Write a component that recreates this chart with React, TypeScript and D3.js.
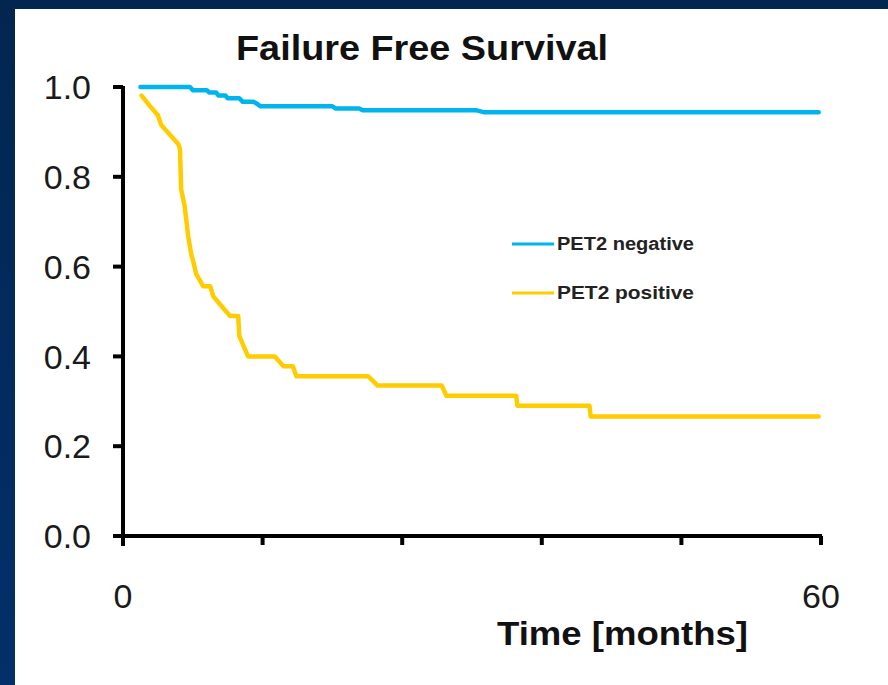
import React, { useEffect, useRef } from "react";
import * as d3 from "d3";

const title = "Failure Free Survival";
const xLabel = "Time [months]";
const seriesNames = ["PET2 negative", "PET2 positive"];
const seriesColors = ["#00B4EE", "#FFCC00"];

const yTicks = [0, 0.2, 0.4, 0.6, 0.8, 1.0];
const xTicks = [0, 12, 24, 36, 48, 60];
const xTickLabels = ["0", "", "", "", "", "60"];

// PET2 negative: time (months), survival
const negTime = [1.5, 5.75, 6.0, 7.2, 7.4, 8.0, 8.2, 8.8, 9.0, 10.0, 10.3, 11.2, 11.5, 11.8, 18.0, 18.3, 20.3, 20.6, 30.4, 31.0, 59.8];
const negSurv = [1.0, 1.0, 0.993, 0.993, 0.988, 0.988, 0.981, 0.981, 0.975, 0.975, 0.967, 0.967, 0.963, 0.957, 0.957, 0.952, 0.952, 0.948, 0.948, 0.944, 0.944];

// PET2 positive
const posTime = [1.6, 2.3, 3.0, 3.3, 4.0, 4.75, 4.9, 5.0, 5.3, 5.6, 5.9, 6.0, 6.3, 6.9, 7.5, 7.75, 9.2, 9.9, 10.0, 10.75, 13.05, 13.8, 14.6, 14.9, 21.06, 21.9, 27.4, 27.8, 33.8, 33.9, 40.1, 40.2, 59.8];
const posSurv = [0.981, 0.958, 0.937, 0.915, 0.895, 0.873, 0.862, 0.772, 0.735, 0.668, 0.623, 0.616, 0.583, 0.556, 0.556, 0.534, 0.49, 0.49, 0.445, 0.40, 0.40, 0.378, 0.378, 0.356, 0.356, 0.335, 0.335, 0.3125, 0.3125, 0.29, 0.29, 0.266, 0.266];

export default function App() {
  const ref = useRef<SVGSVGElement>(null);

  useEffect(() => {
    const svg = d3.select(ref.current);
    svg.selectAll("*").remove();
    const W = 888, H = 685;

    // background
    const defs = svg.append("defs");
    const grad = defs.append("linearGradient").attr("id", "bg").attr("x1", 0).attr("y1", 0).attr("x2", 0).attr("y2", 1);
    grad.append("stop").attr("offset", "0%").attr("stop-color", "#02264f");
    grad.append("stop").attr("offset", "100%").attr("stop-color", "#03306a");
    svg.append("rect").attr("width", W).attr("height", H).attr("fill", "url(#bg)");
    svg.append("rect").attr("x", 15).attr("y", 9).attr("width", W - 15).attr("height", H - 9).attr("fill", "#ffffff");

    const x = d3.scaleLinear().domain([0, 60]).range([123, 821]);
    const y = d3.scaleLinear().domain([0, 1]).range([536, 87]);

    const font = "'Liberation Sans', Arial, sans-serif";

    // title
    svg.append("text").attr("x", 236).attr("y", 60)
      .attr("textLength", 372).attr("lengthAdjust", "spacingAndGlyphs")
      .attr("font-family", font).attr("font-weight", "bold").attr("font-size", 35)
      .attr("fill", "#111").text(title);

    // y axis
    const g = svg.append("g");
    g.append("line").attr("x1", x(0)).attr("x2", x(0)).attr("y1", y(1) - 1).attr("y2", y(0) + 10)
      .attr("stroke", "#000").attr("stroke-width", 4);
    yTicks.forEach((v) => {
      g.append("line").attr("x1", x(0) - 10).attr("x2", x(0)).attr("y1", y(v)).attr("y2", y(v))
        .attr("stroke", "#000").attr("stroke-width", 4);
      g.append("text").attr("x", 91).attr("y", y(v)).attr("dy", "0.36em").attr("text-anchor", "end")
        .attr("font-family", font).attr("font-size", 34).attr("fill", "#1a1a1a").text(v.toFixed(1));
    });

    // x axis
    g.append("line").attr("x1", x(0) - 10).attr("x2", x(60) + 1).attr("y1", y(0)).attr("y2", y(0))
      .attr("stroke", "#000").attr("stroke-width", 4);
    xTicks.forEach((v, i) => {
      g.append("line").attr("x1", x(v)).attr("x2", x(v)).attr("y1", y(0)).attr("y2", y(0) + 9)
        .attr("stroke", "#000").attr("stroke-width", 4);
      if (xTickLabels[i]) {
        g.append("text").attr("x", x(v)).attr("y", 608).attr("text-anchor", "middle")
          .attr("font-family", font).attr("font-size", 34).attr("fill", "#1a1a1a").text(xTickLabels[i]);
      }
    });

    svg.append("text").attr("x", 497).attr("y", 645)
      .attr("textLength", 251).attr("lengthAdjust", "spacingAndGlyphs")
      .attr("font-family", font).attr("font-weight", "bold").attr("font-size", 33)
      .attr("fill", "#111").text(xLabel);

    // curves
    const line = d3.line<[number, number]>().x((d) => x(d[0])).y((d) => y(d[1]));
    const negData: [number, number][] = negTime.map((t, i) => [t, negSurv[i]]);
    const posData: [number, number][] = posTime.map((t, i) => [t, posSurv[i]]);
    [negData, posData].forEach((data, i) => {
      svg.append("path").attr("d", line(data)).attr("fill", "none")
        .attr("stroke", seriesColors[i]).attr("stroke-width", 4.5)
        .attr("stroke-linejoin", "round").attr("stroke-linecap", "round");
    });

    // legend
    seriesNames.forEach((name, i) => {
      const ly = 244 + i * 49;
      svg.append("line").attr("x1", 512).attr("x2", 554).attr("y1", ly).attr("y2", ly)
        .attr("stroke", seriesColors[i]).attr("stroke-width", 3);
      svg.append("text").attr("x", 557).attr("y", ly).attr("dy", "0.36em")
        .attr("textLength", 137).attr("lengthAdjust", "spacingAndGlyphs")
        .attr("font-family", font).attr("font-weight", "bold").attr("font-size", 18)
        .attr("fill", "#222").text(name);
    });
  }, []);

  return (
    <svg ref={ref} width={888} height={685} style={{ position: "absolute", left: 0, top: 0, display: "block" }} />
  );
}
